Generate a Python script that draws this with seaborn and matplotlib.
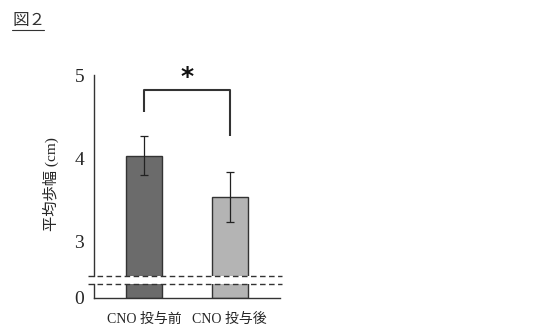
import numpy as np
import pandas as pd
import matplotlib
matplotlib.use("Agg")
import matplotlib.pyplot as plt
import seaborn as sns
from matplotlib.lines import Line2D

sns.set_style("white")
plt.rcParams["font.family"] = ["Liberation Serif", "Noto Sans CJK JP", "DejaVu Sans"]

categories = ["CNO 投与前", "CNO 投与後"]
means = [4.03, 3.53]
errs = [0.23, 0.30]
bar_colors = ["#6b6b6b", "#b4b4b4"]
sig_label = "*"
ylabel = "平均歩幅 (cm)"
title = "図２"

df = pd.DataFrame({"group": categories, "mean": means})

W, H = 534, 326
fig = plt.figure(figsize=(W / 100, H / 100), dpi=100)

def fx(px):
    return px / W

def fy(py):
    return 1 - py / H

left, right = fx(94), fx(280)
ax_top = fig.add_axes([left, fy(276), right - left, fy(75) - fy(276)])
ax_bot = fig.add_axes([left, fy(298), right - left, fy(284) - fy(298)])

edge = "#333333"
for ax in (ax_top, ax_bot):
    sns.barplot(data=df, x="group", y="mean", hue="group", palette=bar_colors,
                width=0.42, edgecolor=edge, linewidth=1.0, legend=False, ax=ax)
    ax.set_xlim(-0.585, 1.59)
    ax.set_xlabel("")
    ax.set_ylabel("")
    for s in ("top", "right"):
        ax.spines[s].set_visible(False)
    ax.spines["left"].set_color(edge)
    ax.spines["left"].set_linewidth(1.0)
    ax.tick_params(axis="y", direction="out", length=4, width=1, color=edge,
                   labelsize=14, pad=3)

# top part
x_pos = np.arange(len(categories))
ax_top.errorbar(x_pos, means, yerr=errs, fmt="none", ecolor="#222222",
                elinewidth=0.9, capsize=3, capthick=0.9)
ax_top.set_ylim(2.58, 5.0)
ax_top.set_yticks([3, 4, 5])
ax_top.spines["bottom"].set_visible(False)
ax_top.tick_params(axis="x", bottom=False, labelbottom=False)

# significance bracket
bx = [0, 0, 1, 1]
by = [4.55, 4.82, 4.82, 4.26]
ax_top.plot(bx, by, color=edge, lw=1.5, clip_on=False, solid_capstyle="butt")
ax_top.text(0.5, 4.97, sig_label, ha="center", va="center", fontsize=18,
            fontweight="bold", family="DejaVu Sans", color="#111111", clip_on=False)

# bottom part
ax_bot.set_ylim(0, 14 / 83)
ax_bot.set_yticks([0])
ax_bot.spines["bottom"].set_color(edge)
ax_bot.spines["bottom"].set_linewidth(1.0)
ax_bot.set_xticks(x_pos)
ax_bot.set_xticklabels(categories, fontsize=10)
ax_bot.tick_params(axis="x", length=0, pad=11)
ax_bot.set_xticks([0.5], minor=True)
ax_bot.tick_params(axis="x", which="minor", direction="out", length=4, width=1, color=edge)

# break marks
for py in (276, 284):
    fig.add_artist(Line2D([fx(88), fx(282)], [fy(py), fy(py)], color=edge,
                          lw=1.0, linestyle=(0, (4, 2.5))))

fig.text(fx(51), fy(184), ylabel, rotation=90, ha="center", va="center", fontsize=11)

fig.text(fx(12), fy(21), title, ha="left", va="center", fontsize=12, color="#333333")
fig.add_artist(Line2D([fx(12), fx(44)], [fy(30), fy(30)], color="#333333", lw=0.8))

fig.savefig("out.png", dpi=100)
